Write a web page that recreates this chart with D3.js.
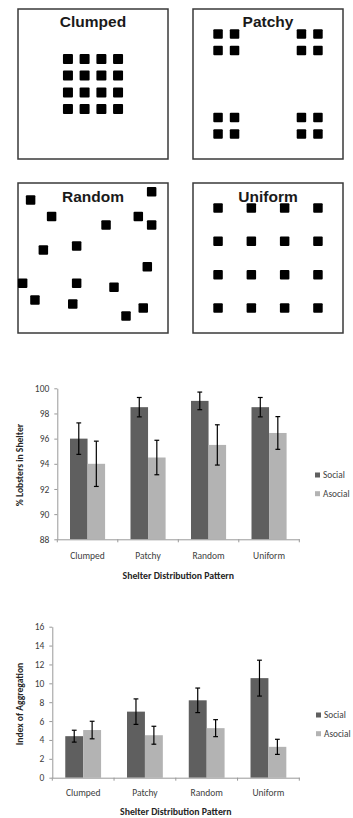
<!DOCTYPE html>
<html>
<head>
<meta charset="utf-8">
<script src="https://cdn.jsdelivr.net/npm/d3@7"></script>
<style>
  body { margin: 0; background: #fff; }
  svg { display: block; }
  .tick text { font-family: Carlito, Lato, sans-serif; fill: #404040; }
</style>
</head>
<body>
<svg id="chart" width="353" height="818"></svg>
<script>
// ---------- data ----------
// shelter layouts, coordinates in a 0-100 box
var clumpedX = [33.3, 44.4, 55.6, 66.7];
var clumpedY = [33.3, 44.4, 55.6, 66.7];
var patchyX = [16.7, 27.7, 72.3, 83.3];
var patchyY = [16.7, 27.7, 72.3, 83.3];
var uniformX = [16.7, 38.9, 61.1, 83.3];
var uniformY = [16.7, 38.9, 61.1, 83.3];
var randomPts = [
  [8.4, 11.3], [89.1, 5.8], [22.4, 22.4], [80.2, 22.4], [89.1, 28], [58.7, 28],
  [16.9, 44.7], [39.1, 42], [86.2, 55.8], [3.1, 66.9], [39.1, 66.9], [64, 69.5],
  [11.3, 78], [36.5, 80.7], [83.5, 83.3], [72, 88.7]
];

var categories = ["Clumped", "Patchy", "Random", "Uniform"];
var groups = ["Social", "Asocial"];

var shelterSocial = [96.0, 98.5, 99.0, 98.5];
var shelterSocialErr = [1.25, 0.77, 0.7, 0.77];
var shelterAsocial = [94.0, 94.5, 95.5, 96.45];
var shelterAsocialErr = [1.8, 1.37, 1.6, 1.3];
var shelterTicks = [88, 90, 92, 94, 96, 98, 100];

var aggSocial = [4.4, 7.0, 8.2, 10.55];
var aggSocialErr = [0.63, 1.35, 1.3, 1.9];
var aggAsocial = [5.05, 4.5, 5.25, 3.27];
var aggAsocialErr = [0.93, 0.95, 0.9, 0.8];
var aggTicks = [0, 2, 4, 6, 8, 10, 12, 14, 16];

var colors = { Social: "#5f5f5f", Asocial: "#b3b3b3" };

var svg = d3.select("#chart");

// ---------- layout diagrams ----------
function grid(xs, ys) {
  var pts = [];
  ys.forEach(function(y) { xs.forEach(function(x) { pts.push([x, y]); }); });
  return pts;
}

var panels = [
  { name: "Clumped", x: 18, y: 9, pts: grid(clumpedX, clumpedY), s: 10 },
  { name: "Patchy", x: 193, y: 9, pts: grid(patchyX, patchyY), s: 9.5 },
  { name: "Random", x: 18, y: 183, pts: randomPts, s: 9.5 },
  { name: "Uniform", x: 193, y: 183, pts: grid(uniformX, uniformY), s: 9.5 }
];

var boxSize = 150;
var bx = d3.scaleLinear().domain([0, 100]).range([0, boxSize]);

panels.forEach(function(p) {
  var g = svg.append("g").attr("transform", "translate(" + p.x + "," + p.y + ")");
  g.append("rect")
    .attr("width", boxSize).attr("height", boxSize)
    .attr("fill", "none").attr("stroke", "#3a3a3a").attr("stroke-width", 1.5);
  g.selectAll("rect.sq").data(p.pts).enter().append("rect")
    .attr("class", "sq")
    .attr("x", function(d) { return bx(d[0]) - p.s / 2; })
    .attr("y", function(d) { return bx(d[1]) - p.s / 2; })
    .attr("width", p.s).attr("height", p.s)
    .attr("rx", 1)
    .attr("fill", "#000");
  g.append("text")
    .attr("x", boxSize / 2).attr("y", p.name == "Clumped" || p.name == "Patchy" ? 18 : 18.5)
    .attr("text-anchor", "middle")
    .attr("font-family", "Liberation Sans, Arial, sans-serif")
    .attr("font-weight", "bold")
    .attr("font-size", 15.5)
    .attr("fill", "#1a1a1a")
    .text(p.name);
});

// ---------- bar charts ----------
function barChart(opt) {
  var g = svg.append("g");
  var x0 = d3.scaleBand().domain(categories)
    .range([opt.left, opt.right]).paddingInner(0.42).paddingOuter(0.21);
  var x1 = d3.scaleBand().domain(groups).range([0, x0.bandwidth()]);
  var y = d3.scaleLinear().domain(opt.domain).range([opt.bottom, opt.top]);

  var rows = [];
  categories.forEach(function(c, i) {
    rows.push({ cat: c, grp: "Social", v: opt.social[i], e: opt.socialErr[i] });
    rows.push({ cat: c, grp: "Asocial", v: opt.asocial[i], e: opt.asocialErr[i] });
  });

  g.selectAll("rect.bar").data(rows).enter().append("rect")
    .attr("class", "bar")
    .attr("x", function(d) { return x0(d.cat) + x1(d.grp); })
    .attr("y", function(d) { return y(d.v); })
    .attr("width", x1.bandwidth())
    .attr("height", function(d) { return y(opt.domain[0]) - y(d.v); })
    .attr("fill", function(d) { return colors[d.grp]; });

  // error bars
  var eb = g.selectAll("g.err").data(rows).enter().append("g")
    .attr("class", "err")
    .attr("stroke", "#000").attr("stroke-width", 1.2);
  var cx = function(d) { return x0(d.cat) + x1(d.grp) + x1.bandwidth() / 2; };
  eb.append("line")
    .attr("x1", cx).attr("x2", cx)
    .attr("y1", function(d) { return y(d.v + d.e); })
    .attr("y2", function(d) { return y(d.v - d.e); });
  [1, -1].forEach(function(sgn) {
    eb.append("line")
      .attr("x1", function(d) { return cx(d) - 2.4; })
      .attr("x2", function(d) { return cx(d) + 2.4; })
      .attr("y1", function(d) { return y(d.v + sgn * d.e); })
      .attr("y2", function(d) { return y(d.v + sgn * d.e); });
  });

  // y axis
  var yAxis = g.append("g")
    .attr("transform", "translate(" + opt.left + ",0)")
    .call(d3.axisLeft(y).tickValues(opt.ticks).tickSize(3).tickSizeOuter(0).tickPadding(5));
  yAxis.selectAll("path, line").attr("stroke", "#999");
  yAxis.selectAll("text").attr("font-size", 9.5);

  // x axis: labels at band centres, ticks at band edges
  var xAxis = g.append("g")
    .attr("transform", "translate(0," + opt.bottom + ")")
    .call(d3.axisBottom(x0).tickSize(0).tickPadding(opt.labelPad));
  xAxis.select("path").attr("stroke", "#999");
  xAxis.selectAll("text").attr("font-size", 9.5);
  var step = x0.step();
  var edges = categories.map(function(c) { return x0(c) - step * 0.21; });
  edges.push(opt.right);
  g.selectAll("line.edge").data(edges).enter().append("line")
    .attr("x1", function(d) { return d; }).attr("x2", function(d) { return d; })
    .attr("y1", opt.bottom).attr("y2", opt.bottom + 3)
    .attr("stroke", "#999");

  // titles
  g.append("text")
    .attr("x", (opt.left + opt.right) / 2).attr("y", opt.xTitleY)
    .attr("text-anchor", "middle")
    .attr("font-family", "Carlito, Lato, sans-serif").attr("font-weight", "bold")
    .attr("font-size", 9.8).attr("fill", "#262626")
    .text("Shelter Distribution Pattern");
  g.append("text")
    .attr("transform", "translate(" + opt.yTitleX + "," + opt.yTitleY + ") rotate(-90)")
    .attr("text-anchor", "middle")
    .attr("font-family", "Carlito, Lato, sans-serif").attr("font-weight", "bold")
    .attr("font-size", 9.6).attr("fill", "#262626")
    .text(opt.yTitle);

  // legend
  var lg = g.selectAll("g.leg").data(groups).enter().append("g")
    .attr("class", "leg")
    .attr("transform", function(d, i) {
      return "translate(" + opt.legX + "," + (opt.legY + i * 18.7) + ")";
    });
  lg.append("rect").attr("x", 0).attr("y", -2.5).attr("width", 5).attr("height", 5)
    .attr("fill", function(d) { return colors[d]; });
  lg.append("text").attr("x", 8).attr("y", 3.3)
    .attr("font-family", "Carlito, Lato, sans-serif").attr("font-size", 9.3)
    .attr("fill", "#404040")
    .text(function(d) { return d; });
}

barChart({
  left: 57.3, right: 299.3, top: 388.3, bottom: 539.3,
  domain: [88, 100], ticks: shelterTicks,
  social: shelterSocial, socialErr: shelterSocialErr,
  asocial: shelterAsocial, asocialErr: shelterAsocialErr,
  labelPad: 13, xTitleY: 579, yTitle: "% Lobsters in Shelter",
  yTitleX: 23, yTitleY: 465, legX: 315, legY: 475
});

barChart({
  left: 52.3, right: 299.3, top: 626.7, bottom: 777.7,
  domain: [0, 16], ticks: aggTicks,
  social: aggSocial, socialErr: aggSocialErr,
  asocial: aggAsocial, asocialErr: aggAsocialErr,
  labelPad: 12, xTitleY: 814.5, yTitle: "Index of Aggregation",
  yTitleX: 23, yTitleY: 704, legX: 316, legY: 715
});
</script>
</body>
</html>
